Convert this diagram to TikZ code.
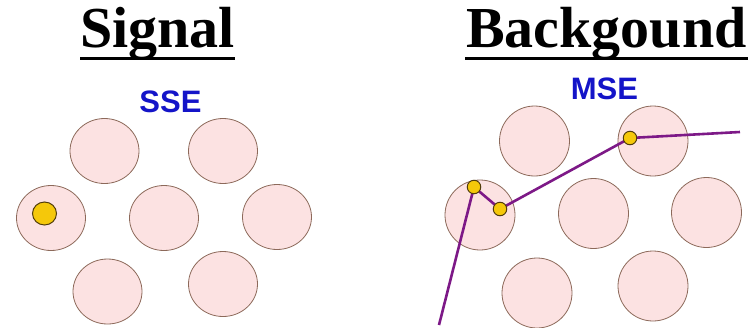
\documentclass[tikz,border=0pt]{standalone}
\usepackage{fontspec}
\setmainfont{Liberation Serif}
\newfontfamily\labelfont{Liberation Sans}
\usetikzlibrary{shapes.geometric}
\definecolor{cellfill}{RGB}{252,226,226}
\definecolor{cellline}{RGB}{140,105,90}
\definecolor{hitfill}{RGB}{245,200,10}
\definecolor{hitline}{RGB}{80,60,10}
\definecolor{trackcol}{RGB}{125,25,135}
\definecolor{labelblue}{RGB}{20,20,200}
\tikzset{
  cellL/.style={ellipse,draw=cellline,fill=cellfill,line width=0.8pt,inner sep=0pt,minimum width=69pt,minimum height=65pt},
  cellR/.style={ellipse,draw=cellline,fill=cellfill,line width=0.8pt,inner sep=0pt,minimum width=70pt,minimum height=70pt},
  hitbig/.style={ellipse,draw=hitline,fill=hitfill,line width=1pt,inner sep=0pt,minimum width=24pt,minimum height=23pt},
  hitsmall/.style={circle,draw=hitline,fill=hitfill,line width=1pt,inner sep=0pt,minimum size=13.5pt},
  title/.style={font=\fontsize{58}{60}\selectfont\bfseries,inner sep=0pt,anchor=base},
  tag/.style={font=\labelfont\fontsize{31}{33}\selectfont\bfseries,text=labelblue,inner sep=0pt,anchor=base},
  track/.style={draw=trackcol,line width=2.6pt},
  uline/.style={line width=3pt}
}
\begin{document}
\begin{tikzpicture}[x=1pt,y=-1pt]
\useasboundingbox (0,0) rectangle (754,327);
% titles
\node[title] (tsig) at (157.5,47) {Signal};
\node[title] (tbkg) at (606.5,47) {Backgound};
\coordinate (u1a) at (80,58); \coordinate (u1b) at (235,58);
\coordinate (u2a) at (465,58); \coordinate (u2b) at (748,58);
\draw[uline] (u1a) -- (u1b);
\draw[uline] (u2a) -- (u2b);
% labels
\node[tag] (sse) at (170.5,112) {SSE};
\node[tag] (mse) at (604.5,99) {MSE};
% left cells
\node[cellL] (l1) at (104.5,151) {};
\node[cellL] (l2) at (223,151) {};
\node[cellL] (l3) at (51,218) {};
\node[cellL] (l4) at (164,218) {};
\node[cellL] (l5) at (277,217) {};
\node[cellL] (l6) at (107.5,291.5) {};
\node[cellL] (l7) at (223,284) {};
\node[hitbig] (h0) at (44.5,213.5) {};
% right cells
\node[cellR] (r1) at (534.5,141) {};
\node[cellR] (r2) at (653,141) {};
\node[cellR] (r3) at (480,215) {};
\node[cellR] (r4) at (593.5,213.5) {};
\node[cellR] (r5) at (706.5,212.5) {};
\node[cellR] (r6) at (537,293) {};
\node[cellR] (r7) at (653,286) {};
% track
\coordinate (tin) at (439,325);
\coordinate (pa) at (474,187);
\coordinate (pb) at (500,209);
\coordinate (pc) at (630,138);
\coordinate (tout) at (740,132);
\draw[track] (tin) -- (pa) -- (pb) -- (pc) -- (tout);
\node[hitsmall] (ha) at (pa) {};
\node[hitsmall] (hb) at (pb) {};
\node[hitsmall] (hc) at (pc) {};
\end{tikzpicture}
\end{document}
